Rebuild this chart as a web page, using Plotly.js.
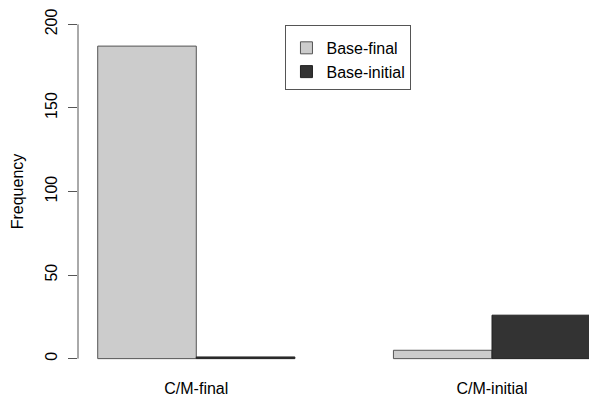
<!DOCTYPE html>
<html>
<head>
<meta charset="utf-8">
<script src="https://cdn.plot.ly/plotly-3.0.1.min.js"></script>
<style>html,body{margin:0;padding:0;background:#fff;}#chart{width:589px;height:396px;}</style>
</head>
<body>
<div id="chart"></div>
<script>
const categories = ['C/M-final', 'C/M-initial'];
const seriesNames = ['Base-final', 'Base-initial'];
const baseFinal = [187, 5];
const baseInitial = [1, 26];
const yTicks = [0, 50, 100, 150, 200];

const FONT = 'Liberation Sans, Arial, Helvetica, sans-serif';
const FS = 16;

const traces = [
  {
    type: 'bar', name: seriesNames[0], x: categories, y: baseFinal,
    marker: {color: '#cccccc', line: {color: '#555555', width: 1}}
  },
  {
    type: 'bar', name: seriesNames[1], x: categories, y: baseInitial,
    marker: {color: '#333333', line: {color: '#222222', width: 1}}
  }
];

const layout = {
  width: 589, height: 396,
  margin: {l: 78, r: 0, t: 11, b: 24, pad: 0},
  paper_bgcolor: '#ffffff', plot_bgcolor: '#ffffff',
  font: {family: FONT, size: FS, color: '#000000'},
  barmode: 'group', bargap: 1/3, bargroupgap: 0,
  showlegend: true,
  legend: {
    x: 0.406, y: 0.962, xanchor: 'left', yanchor: 'top',
    bgcolor: '#ffffff', bordercolor: '#555555', borderwidth: 1,
    font: {family: FONT, size: FS, color: '#000000'},
    title: {text: ' ', font: {family: FONT, size: 4}},
    itemwidth: 30, traceorder: 'normal'
  },
  xaxis: {
    type: 'category', range: [-0.4, 1.328],
    showgrid: false, zeroline: false, showline: false, ticks: '',
    tickfont: {family: FONT, size: FS, color: '#000000'},
    ticklabelstandoff: 5
  },
  yaxis: {
    range: [-8, 208], tickvals: yTicks, ticktext: yTicks.map(String),
    showgrid: false, zeroline: false, showline: false,
    ticks: 'outside', ticklen: 9, tickcolor: '#555555', tickwidth: 1,
    tickangle: -90, ticklabelstandoff: 5,
    tickfont: {family: FONT, size: FS, color: '#000000'},
    title: {text: 'Frequency', font: {family: FONT, size: FS, color: '#000000'}, standoff: 14}
  },
  shapes: [{
    type: 'line', xref: 'paper', yref: 'y',
    x0: 0, x1: 0, y0: yTicks[0], y1: yTicks[yTicks.length - 1],
    line: {color: '#555555', width: 1}
  }]
};

Plotly.newPlot('chart', traces, layout, {displayModeBar: false, staticPlot: true});
</script>
</body>
</html>
